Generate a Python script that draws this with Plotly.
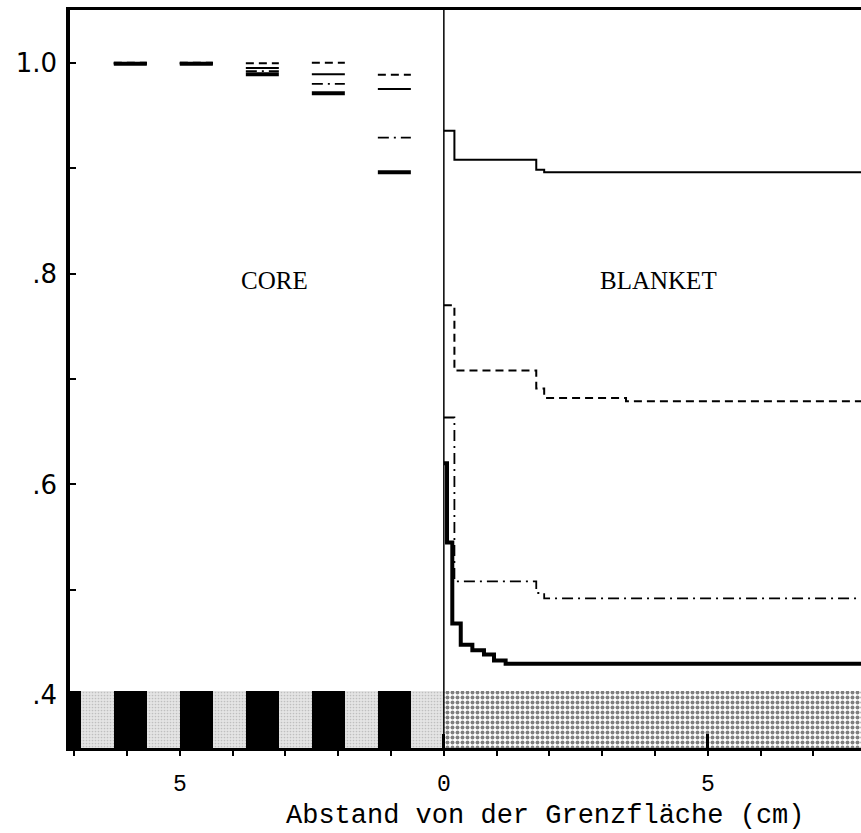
import plotly.graph_objects as go

# ---- geometry of the cell (cm); negative = core side, positive = blanket side
x_min, x_max = -7.08, 7.9
y_min, y_max = 0.35, 1.05
interface_x = 0.0

pin_width = 0.625
pin_starts = [-7.5, -6.25, -5.0, -3.75, -2.5, -1.25]   # fuel pin left edges
valued_pins = pin_starts[1:]                          # pins with a value marker

# ---- core: group ratios per fuel pin
core_g1 = [0.9995, 0.9995, 0.995, 0.989, 0.975]    # thin solid
core_g2 = [1.0, 1.0, 0.9995, 1.0, 0.9886]          # dashed
core_g3 = [0.9990, 0.9990, 0.992, 0.980, 0.929]    # dash-dot
core_g4 = [0.9990, 0.9990, 0.989, 0.971, 0.896]    # thick solid

# ---- blanket: step profiles (bin edges, values)
bl_g1_x = [0.0, 0.2, 1.75, 1.9, 9.0]
bl_g1_y = [0.9355, 0.908, 0.8985, 0.896, 0.896]

bl_g2_x = [0.0, 0.2, 1.75, 1.9, 3.45, 9.0]
bl_g2_y = [0.770, 0.708, 0.691, 0.682, 0.679, 0.679]

bl_g3_x = [0.0, 0.2, 1.75, 1.9, 9.0]
bl_g3_y = [0.6635, 0.508, 0.497, 0.492, 0.492]

bl_g4_x = [0.0, 0.06, 0.16, 0.32, 0.54, 0.76, 0.95, 1.17, 9.0]
bl_g4_y = [0.620, 0.545, 0.468, 0.448, 0.4426, 0.4386, 0.433, 0.430, 0.430]

# ---- material strip at the bottom
strip_bottom, strip_top = 0.35, 0.404

# ---- tick labels
x_tickvals = list(range(-7, 8))
x_ticktext = ["5" if abs(v) == 5 else ("0" if v == 0 else "") for v in x_tickvals]
y_tickvals = [0.4, 0.5, 0.6, 0.7, 0.8, 0.9, 1.0]
y_ticktext = [".4", "", ".6", "", ".8", "", "1.0"]

styles = [
    dict(width=2, dash="solid"),
    dict(width=2, dash="8px,5px"),
    dict(width=1.8, dash="11px,5px,2px,5px"),
    dict(width=4, dash="solid"),
]

fig = go.Figure()

# strip: core background, fuel pins, blanket
fig.add_trace(go.Bar(
    x=[(pin_starts[0] + interface_x) / 2], y=[strip_top - strip_bottom],
    base=[strip_bottom], width=[interface_x - pin_starts[0]],
    marker=dict(color="#dcdcdc", line_width=0,
                pattern=dict(shape=".", fgcolor="#9a9a9a", bgcolor="#e4e4e4",
                             size=3, solidity=0.25)),
    hoverinfo="skip", showlegend=False))
fig.add_trace(go.Bar(
    x=[s + pin_width / 2 for s in pin_starts],
    y=[strip_top - strip_bottom] * len(pin_starts),
    base=[strip_bottom] * len(pin_starts),
    width=[pin_width] * len(pin_starts),
    marker=dict(color="black", line_width=0),
    hoverinfo="skip", showlegend=False))
fig.add_trace(go.Bar(
    x=[(interface_x + 9.0) / 2], y=[strip_top - strip_bottom],
    base=[strip_bottom], width=[9.0 - interface_x],
    marker=dict(color="white", line_width=0,
                pattern=dict(shape=".", fgcolor="black", bgcolor="white",
                             size=5, solidity=0.5)),
    hoverinfo="skip", showlegend=False))

# core markers: one short segment per pin and group
for vals, st in zip([core_g1, core_g2, core_g3, core_g4], styles):
    xs, ys = [], []
    for s, v in zip(valued_pins, vals):
        xs += [s, s + pin_width, None]
        ys += [v, v, None]
    fig.add_trace(go.Scatter(x=xs, y=ys, mode="lines",
                             line=dict(color="black", **st),
                             hoverinfo="skip", showlegend=False))

# blanket step profiles
for bx, by, st in zip([bl_g1_x, bl_g2_x, bl_g3_x, bl_g4_x],
                      [bl_g1_y, bl_g2_y, bl_g3_y, bl_g4_y], styles):
    fig.add_trace(go.Scatter(x=bx, y=by, mode="lines", line_shape="hv",
                             line=dict(color="black", **st),
                             hoverinfo="skip", showlegend=False))

# core / blanket interface
fig.add_vline(x=interface_x, line=dict(color="black", width=1.5))

# region labels
fig.add_annotation(x=-3.2, y=0.793, text="CORE", showarrow=False,
                   font=dict(family="Liberation Serif", size=25, color="black"))
fig.add_annotation(x=4.06, y=0.793, text="BLANKET", showarrow=False,
                   font=dict(family="Liberation Serif", size=25, color="black"))

# axis title
fig.add_annotation(x=1.91, xref="x", y=-0.0915, yref="paper", yanchor="middle",
                   text="Abstand von der Grenzfläche (cm)", showarrow=False,
                   font=dict(family="Liberation Mono", size=27, color="black"))

fig.update_layout(
    width=861, height=833,
    margin=dict(l=70, r=0, t=10, b=85),
    paper_bgcolor="white", plot_bgcolor="white",
    barmode="overlay", bargap=0,
    showlegend=False,
    xaxis=dict(range=[x_min, x_max], showgrid=False, zeroline=False,
               showline=True, linecolor="black", linewidth=3, mirror=True,
               ticks="outside", ticklen=5, tickwidth=2, tickcolor="black",
               tickvals=x_tickvals, ticktext=x_ticktext,
               ticklabelstandoff=7,
               tickfont=dict(family="Liberation Mono", size=23, color="black")),
    xaxis2=dict(range=[x_min, x_max], overlaying="x", side="bottom",
                showgrid=False, zeroline=False, showline=False,
                ticks="inside", ticklen=14, tickwidth=3, tickcolor="black",
                tickvals=[0, 5], showticklabels=False),
    yaxis=dict(range=[y_min, y_max], showgrid=False, zeroline=False,
               showline=True, linecolor="black", linewidth=3.5,
               ticks="inside", ticklen=6, tickwidth=2, tickcolor="black",
               tickvals=y_tickvals, ticktext=y_ticktext,
               ticklabelstandoff=4,
               tickfont=dict(family="DejaVu Sans", size=26, color="black")),
)

# invisible anchor trace so the overlay axis is drawn
fig.add_trace(go.Scatter(x=[x_min, x_max], y=[y_min, y_min], xaxis="x2",
                         mode="lines", line=dict(width=0), opacity=0,
                         hoverinfo="skip", showlegend=False))

fig.write_html("out.html")
